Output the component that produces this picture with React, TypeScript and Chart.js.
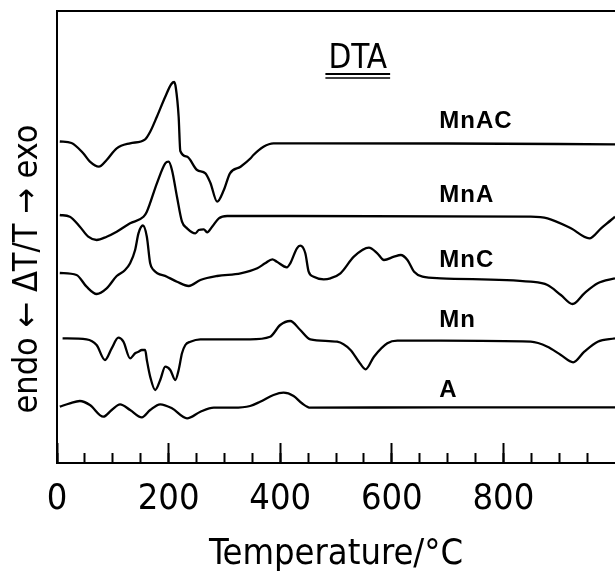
import React, { useEffect, useRef } from 'react';
import { Chart, registerables } from 'chart.js';

Chart.register(...registerables);

// Temperature (°C) and stacked DTA signal (arbitrary units) for each sample
const mnacX = [5, 26, 47, 59, 75, 89, 107, 131, 158, 167, 179, 194, 205, 210, 213, 218, 221, 233, 251, 266, 275, 287, 299, 310, 329, 347, 352, 370, 388, 450, 700, 1000];
const mnacY = [32.15, 32.0, 30.97, 30.13, 29.63, 30.3, 31.47, 31.97, 32.37, 33.13, 34.63, 36.63, 37.9, 38.1, 37.5, 34.63, 31.2, 30.63, 29.3, 28.97, 28.0, 26.13, 27.3, 28.97, 29.63, 30.47, 30.8, 31.63, 31.97, 31.97, 31.95, 31.87];

const mnaX = [5, 23, 41, 56, 71, 89, 107, 131, 155, 161, 179, 194, 200, 206, 215, 224, 233, 248, 254, 263, 269, 278, 290, 305, 350, 849, 879, 921, 954, 975, 993, 1000];
const mnaY = [24.8, 24.63, 23.63, 22.63, 22.3, 22.63, 23.13, 23.97, 24.63, 25.13, 27.97, 29.97, 30.13, 29.3, 26.63, 24.13, 23.47, 22.97, 23.3, 23.37, 23.07, 23.63, 24.47, 24.7, 24.7, 24.63, 24.47, 23.47, 22.47, 23.47, 24.3, 24.63];

const mncX = [5, 35, 53, 71, 89, 107, 122, 131, 140, 146, 154, 161, 167, 173, 197, 215, 236, 257, 287, 329, 359, 373, 386, 394, 412, 418, 430, 436, 445, 451, 460, 478, 490, 508, 532, 559, 574, 586, 604, 616, 628, 640, 655, 688, 849, 879, 903, 924, 945, 969, 1000];
const mncY = [19.0, 18.8, 17.63, 16.9, 17.47, 18.7, 19.3, 19.97, 21.3, 22.97, 23.75, 22.63, 19.97, 19.3, 18.63, 18.13, 17.7, 18.3, 18.7, 18.97, 19.47, 19.97, 20.37, 20.13, 19.57, 19.97, 21.47, 21.73, 20.97, 19.13, 18.63, 18.37, 18.47, 18.97, 20.63, 21.53, 20.97, 20.3, 20.63, 20.8, 20.3, 19.13, 18.63, 18.47, 18.13, 17.8, 16.8, 15.9, 16.97, 17.97, 18.47];

const mnX = [10, 53, 71, 86, 98, 110, 119, 131, 140, 146, 152, 158, 161, 167, 176, 185, 194, 203, 212, 218, 224, 230, 239, 257, 346, 382, 400, 418, 436, 454, 502, 526, 541, 553, 568, 592, 610, 688, 849, 879, 903, 925, 945, 969, 1000];
const mnY = [12.47, 12.37, 11.8, 10.3, 11.47, 12.53, 12.13, 10.47, 10.97, 11.13, 11.3, 11.3, 10.3, 8.63, 7.3, 8.3, 9.63, 9.3, 8.3, 9.3, 10.97, 11.8, 12.13, 12.37, 12.37, 12.63, 13.8, 14.2, 13.3, 12.37, 12.13, 11.3, 10.13, 9.37, 10.63, 11.97, 12.23, 12.23, 12.13, 11.63, 10.8, 10.07, 11.13, 12.13, 12.47];

const aX = [5, 23, 41, 59, 83, 98, 113, 131, 152, 167, 185, 206, 233, 257, 281, 316, 346, 364, 388, 406, 424, 439, 454, 688, 1000];
const aY = [5.63, 5.97, 6.2, 5.8, 4.63, 5.3, 5.87, 5.3, 4.57, 5.3, 5.87, 5.47, 4.47, 5.13, 5.53, 5.53, 5.7, 6.13, 6.8, 7.03, 6.7, 5.97, 5.53, 5.57, 5.57];

const seriesNames = ['MnAC', 'MnA', 'MnC', 'Mn', 'A'];
const seriesX = [mnacX, mnaX, mncX, mnX, aX];
const seriesY = [mnacY, mnaY, mncY, mnY, aY];
const labelTemp = 685;
const labelLevel = [33.55, 26.1, 19.6, 13.6, 6.6];

const minorTicks = [0, 50, 100, 150, 200, 250, 300, 350, 400, 450, 500, 550, 600, 650, 700, 750, 800, 850, 900, 950];
const majorTicks = [0, 200, 400, 600, 800];

const xTitle = 'Temperature/°C';
const yTitle = 'endo ← ΔT/T → exo';
const chartTitle = 'DTA';
const titleTemp = 539;
const titleLevel = 39.5;

const THIN = '"DejaVu Sans Condensed", "Liberation Sans Narrow", "DejaVu Sans", sans-serif';
const BOLD = '"Liberation Sans", Arial, sans-serif';

const textPlugin = {
  id: 'dtaText',
  afterDraw(chart: any) {
    const { ctx, scales } = chart;
    const x = scales.x;
    const y = scales.y;
    ctx.save();
    ctx.fillStyle = '#000';
    ctx.strokeStyle = '#000';
    // curve labels
    ctx.font = `bold 24px ${BOLD}`;
    (ctx as any).letterSpacing = '1px';
    ctx.textAlign = 'left';
    ctx.textBaseline = 'alphabetic';
    seriesNames.forEach((n, i) => {
      ctx.fillText(n, x.getPixelForValue(labelTemp), y.getPixelForValue(labelLevel[i]));
    });
    (ctx as any).letterSpacing = '0px';
    // DTA title, double underlined
    ctx.font = `33px ${THIN}`;
    ctx.textAlign = 'center';
    const tx = x.getPixelForValue(titleTemp);
    const ty = y.getPixelForValue(titleLevel);
    ctx.fillText(chartTitle, tx, ty);
    const w = ctx.measureText(chartTitle).width;
    ctx.lineWidth = 2;
    ctx.beginPath();
    ctx.moveTo(tx - w / 2 - 3, ty + 6);
    ctx.lineTo(tx + w / 2 + 3, ty + 6);
    ctx.stroke();
    ctx.lineWidth = 1.5;
    ctx.beginPath();
    ctx.moveTo(tx - w / 2 - 3, ty + 10);
    ctx.lineTo(tx + w / 2 + 3, ty + 10);
    ctx.stroke();
    // y axis title
    ctx.translate(28, 269);
    ctx.rotate(-Math.PI / 2);
    ctx.font = `34px ${THIN}`;
    ctx.textAlign = 'center';
    ctx.textBaseline = 'middle';
    ctx.fillText(yTitle, 0, 0);
    ctx.restore();
  },
};

export default function App() {
  const ref = useRef<HTMLCanvasElement>(null);
  useEffect(() => {
    if (!ref.current) return;
    const datasets = seriesNames.map((name, i) => ({
      label: name,
      data: seriesX[i].map((t, j) => ({ x: t, y: seriesY[i][j] })),
      borderColor: '#000',
      borderWidth: 2.3,
      pointRadius: 0,
      cubicInterpolationMode: 'monotone' as const,
      fill: false,
    }));
    const chart = new Chart(ref.current, {
      type: 'line',
      data: { datasets },
      plugins: [textPlugin],
      options: {
        animation: false,
        responsive: true,
        maintainAspectRatio: false,
        devicePixelRatio: 1,
        layout: { padding: { top: 11, left: 0, right: 0, bottom: 0 } },
        plugins: { legend: { display: false }, tooltip: { enabled: false } },
        scales: {
          x: {
            type: 'linear',
            position: 'bottom',
            min: 0,
            max: 1000,
            afterBuildTicks: (s: any) => { s.ticks = minorTicks.map((v) => ({ value: v })); },
            afterFit: (s: any) => { s.height = 110; },
            ticks: {
              autoSkip: false,
              maxRotation: 0,
              padding: 25,
              color: '#000',
              font: { family: THIN, size: 36 },
              callback: (v: any) => (majorTicks.includes(Number(v)) ? String(v) : ''),
            },
            grid: { drawOnChartArea: false, drawTicks: true, tickLength: -10, tickWidth: 2, tickColor: '#000' },
            border: { display: true, width: 2, color: '#000' },
            title: {
              display: true,
              text: xTitle,
              color: '#000',
              font: { family: THIN, size: 36, lineHeight: 1 },
              padding: { top: 0, bottom: 0 },
            },
          },
          xMajor: {
            type: 'linear',
            axis: 'x',
            position: { y: 0 },
            min: 0,
            max: 1000,
            afterBuildTicks: (s: any) => { s.ticks = majorTicks.map((v) => ({ value: v })); },
            ticks: { display: false },
            grid: { drawOnChartArea: false, drawTicks: true, tickLength: -20, tickWidth: 2, tickColor: '#000' },
            border: { display: false },
          },
          xTop: {
            type: 'linear',
            axis: 'x',
            position: 'top',
            min: 0,
            max: 1000,
            afterFit: (s: any) => { s.height = 0; },
            ticks: { display: false },
            grid: { display: false },
            border: { display: true, width: 2, color: '#000' },
          },
          y: {
            type: 'linear',
            position: 'left',
            min: 0,
            max: 45.2,
            afterFit: (s: any) => { s.width = 57; },
            ticks: { display: false },
            grid: { display: false },
            border: { display: true, width: 2, color: '#000' },
          },
        },
      } as any,
    });
    return () => chart.destroy();
  }, []);
  return (
    <div style={{ position: 'fixed', left: 0, top: 0, width: 615, height: 573, background: '#fff' }}>
      <canvas ref={ref} />
    </div>
  );
}
